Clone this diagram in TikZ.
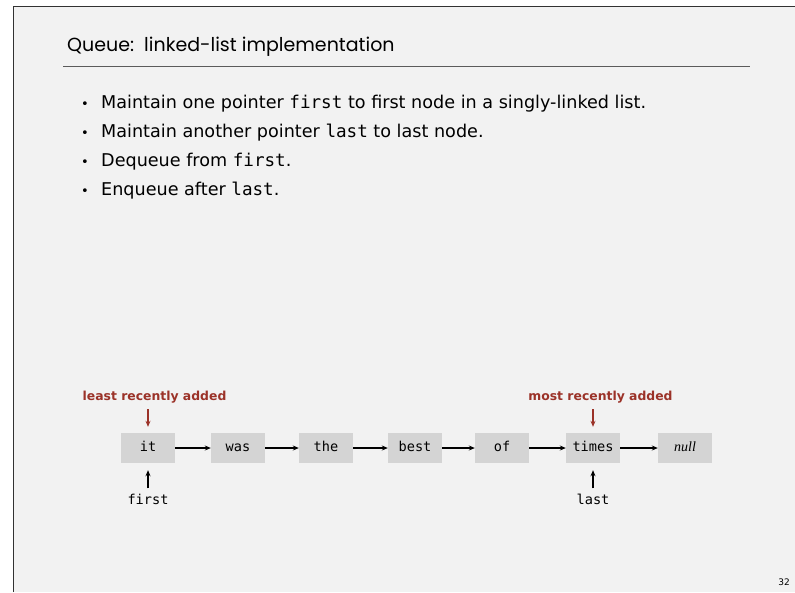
\documentclass[tikz,border=0pt]{standalone}
\usepackage{fontspec}
\setmainfont{DejaVu Sans}
\setmonofont{DejaVu Sans Mono}
\newfontfamily\titlefont{Poppins}
\newfontfamily\serifword{Liberation Serif}
\usetikzlibrary{arrows.meta}
\definecolor{slidebg}{RGB}{242,242,242}
\definecolor{boxgray}{RGB}{212,212,212}
\definecolor{addred}{RGB}{155,50,40}
\definecolor{framegray}{RGB}{50,50,50}
\tikzset{
  word/.style={fill=boxgray, minimum width=54pt, minimum height=30pt, inner sep=0pt, text height=9.5pt, text depth=2.5pt, font=\fontsize{13.6}{14}\selectfont\ttfamily},
  link/.style={draw, line width=1.1pt, -{Stealth[length=6pt,width=5pt]}},
  redlink/.style={draw, addred, line width=1.1pt, -{Stealth[length=6pt,width=5pt]}},
  itemtext/.style={anchor=base west, inner sep=0pt, font=\fontsize{17.6}{18}\selectfont},
  dot/.style={anchor=base, inner sep=0pt, font=\fontsize{13}{14}\selectfont},
  addlabel/.style={anchor=base, inner sep=0pt, text=addred, font=\fontsize{12.4}{13}\selectfont\bfseries},
  ptrname/.style={anchor=base, inner sep=0pt, font=\fontsize{13.6}{14}\selectfont\ttfamily}
}
\begin{document}
\begin{tikzpicture}[x=1pt,y=-1pt]
\useasboundingbox (0,0) rectangle (795,592);
\fill[slidebg] (13.5,6.5) rectangle (795,592);
\draw[framegray, line width=1.3pt] (13.5,592) -- (13.5,6.5) -- (795,6.5);

\node[anchor=base west, inner sep=0pt, font=\fontsize{19}{21}\selectfont\titlefont] (title) at (67,51) {Queue:\ \ linked-list implementation};
\draw[framegray!80, line width=1pt] (63,66) -- (750,66);

\node[dot] (d1) at (85,108) {\textbullet};
\node[dot] (d2) at (85,137) {\textbullet};
\node[dot] (d3) at (85,166) {\textbullet};
\node[dot] (d4) at (85,195) {\textbullet};
\node[itemtext] (t1) at (101,108) {Maintain one pointer \texttt{first} to first node in a singly-linked list.};
\node[itemtext] (t2) at (101,137) {Maintain another pointer \texttt{last} to last node.};
\node[itemtext] (t3) at (101,166) {Dequeue from \texttt{first}.};
\node[itemtext] (t4) at (101,195) {Enqueue after \texttt{last}.};

\node[word] (it) at (148,448) {it};
\node[word] (was) at (238,448) {was};
\node[word] (the) at (326,448) {the};
\node[word] (best) at (415,448) {best};
\node[word] (of) at (502,448) {of};
\node[word] (times) at (593,448) {times};
\node[word, font=\fontsize{14}{14}\selectfont\serifword\itshape] (null) at (685,448) {null};

\path[link] (it) -- (was);
\path[link] (was) -- (the);
\path[link] (the) -- (best);
\path[link] (best) -- (of);
\path[link] (of) -- (times);
\path[link] (times) -- (null);

\node[addlabel] (least) at (154.5,400) {least recently added};
\node[addlabel] (most) at (600.5,400) {most recently added};
\coordinate (leastptr) at (148,409);
\coordinate (mostptr) at (593,409);
\path[redlink, shorten >=6pt] (leastptr) -- (it);
\path[redlink, shorten >=6pt] (mostptr) -- (times);

\node[ptrname] (first) at (148,504) {first};
\node[ptrname] (last) at (593,504) {last};
\path[link, shorten <=5pt, shorten >=7pt] (first) -- (it);
\path[link, shorten <=5pt, shorten >=7pt] (last) -- (times);

\node[font=\fontsize{9}{10}\selectfont] (page) at (784,582) {32};
\end{tikzpicture}
\end{document}
